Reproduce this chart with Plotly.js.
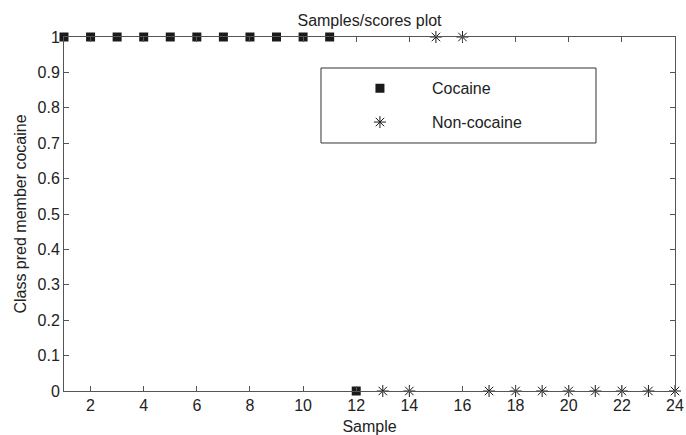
<!DOCTYPE html>
<html>
<head>
<meta charset="utf-8">
<script src="https://cdn.plot.ly/plotly-3.0.1.min.js"></script>
<style>html,body{margin:0;padding:0;background:#fff}#chart{width:686px;height:435px}</style>
</head>
<body>
<div id="chart"></div>
<script>
var cocaineSamples = [1,2,3,4,5,6,7,8,9,10,11,12];
var cocaineValues  = [1,1,1,1,1,1,1,1,1,1,1,0];
var nonCocaineSamples = [13,14,15,16,17,18,19,20,21,22,23,24];
var nonCocaineValues  = [0,0,1,1,0,0,0,0,0,0,0,0];
var xTicks = [2,4,6,8,10,12,14,16,18,20,22,24];
var yTicks = [0,0.1,0.2,0.3,0.4,0.5,0.6,0.7,0.8,0.9,1];
var yTickText = ['0','0.1','0.2','0.3','0.4','0.5','0.6','0.7','0.8','0.9','1'];

var font = '"Liberation Sans", Arial, sans-serif';
var traces = [
  {x: cocaineSamples, y: cocaineValues, name: 'Cocaine', mode: 'markers', type: 'scatter',
   legendgroup: 'a', cliponaxis: false,
   marker: {symbol: 'square', size: 9, color: '#1a1a1a', line: {width: 0}}},
  {x: nonCocaineSamples, y: nonCocaineValues, name: 'Non-cocaine', mode: 'markers', type: 'scatter',
   legendgroup: 'b', cliponaxis: false,
   marker: {symbol: 'asterisk-open', size: 10, color: '#1a1a1a', line: {width: 1, color: '#1a1a1a'}}}
];
var axisCommon = {
  showgrid: false, zeroline: false, showline: true, linecolor: '#555', linewidth: 1,
  mirror: 'ticks', ticks: 'inside', ticklen: 5, tickcolor: '#555',
  tickfont: {family: font, size: 16, color: '#222'}
};
var layout = {
  width: 686, height: 435,
  margin: {l: 64, r: 11, t: 37, b: 44},
  paper_bgcolor: '#fff', plot_bgcolor: '#fff',
  title: {text: 'Samples/scores plot', font: {family: font, size: 16, color: '#222'}, xref: 'paper', x: 0.5, xanchor: 'center', y: 0.952, yanchor: 'middle'},
  xaxis: Object.assign({}, axisCommon, {range: [1, 24], tickvals: xTicks, ticktext: xTicks.map(String),
    title: {text: 'Sample', font: {family: font, size: 16, color: '#222'}, standoff: 7}}),
  yaxis: Object.assign({}, axisCommon, {range: [0, 1], tickvals: yTicks, ticktext: yTickText,
    title: {text: 'Class pred member cocaine', font: {family: font, size: 16, color: '#222'}, standoff: 6}}),
  showlegend: true,
  legend: {x: 0.432, y: 0.903, xanchor: 'left', yanchor: 'top', bgcolor: 'rgba(0,0,0,0)', borderwidth: 0,
    tracegroupgap: 10, font: {family: font, size: 16, color: '#222'}, itemwidth: 94},
  shapes: [{type: 'rect', xref: 'paper', yref: 'paper', x0: 0.4206, x1: 0.8707, y0: 0.7006, y1: 0.9124,
    line: {color: '#333', width: 1}, fillcolor: 'rgba(0,0,0,0)', layer: 'above'}]
};
Plotly.newPlot('chart', traces, layout, {displayModeBar: false, staticPlot: true});
</script>
</body>
</html>
